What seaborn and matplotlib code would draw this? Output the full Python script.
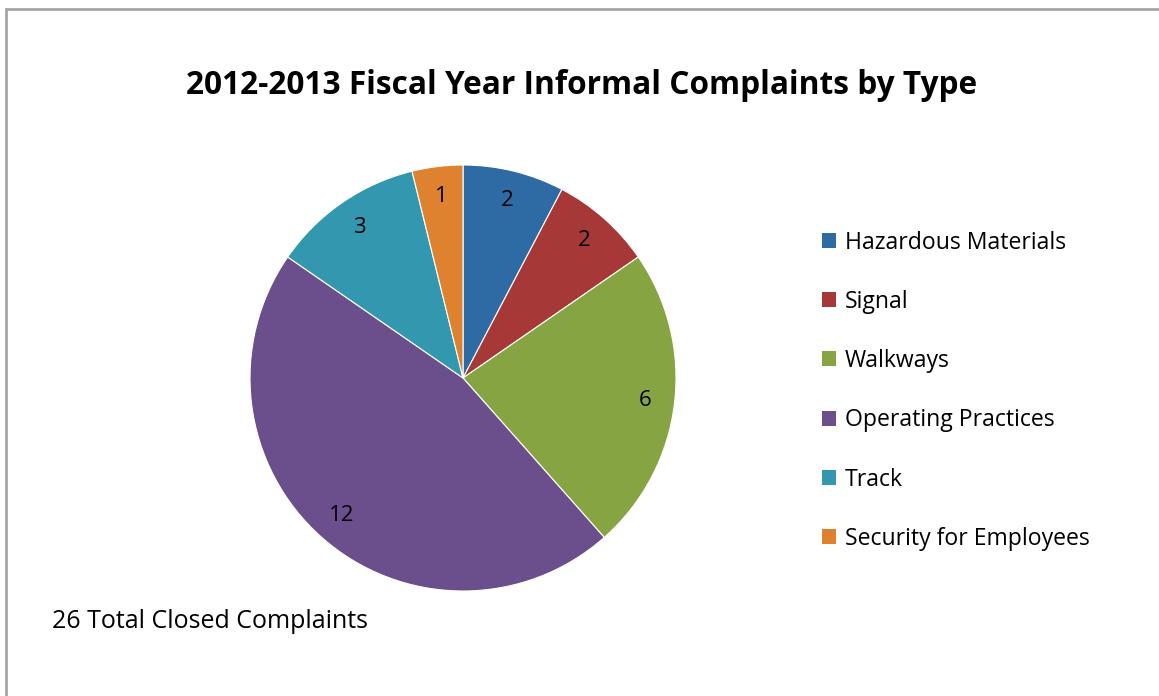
import seaborn as sns
from matplotlib import pyplot as plt
from matplotlib.patches import Patch, Rectangle

categories = ["Hazardous Materials", "Signal", "Walkways", "Operating Practices",
              "Track", "Security for Employees"]
counts = [2, 2, 6, 12, 3, 1]
colors = ["#2E6BA5", "#A63837", "#86A542", "#6B4F8C", "#3397AF", "#DE8230"]
title = "2012-2013 Fiscal Year Informal Complaints by Type"
note = "26 Total Closed Complaints"

sns.set_style("white")
plt.rcParams['font.family'] = ['Open Sans', 'DejaVu Sans']
plt.rcParams['text.color'] = 'black'

W, H = 1159, 696
fig = plt.figure(figsize=(W / 100, H / 100), dpi=100)

# chart frame (only top and left edges are visible in the crop)
fig.patches.append(Rectangle((6 / W, -0.1), 1.2, 1 - 9 / H + 0.1,
                             transform=fig.transFigure, fill=False,
                             edgecolor="#A6A6A6", linewidth=2))

cx, cy, r = 463, 378, 213
ax = fig.add_axes([(cx - r) / W, (H - cy - r) / H, 2 * r / W, 2 * r / H])
total = sum(counts)
ax.pie(counts, colors=colors, startangle=90, counterclock=False,
       autopct=lambda p: f"{round(p * total / 100)}", pctdistance=0.86,
       wedgeprops=dict(edgecolor="white", linewidth=0.8),
       textprops=dict(fontsize=16, color="black"))
ax.set_xlim(-1, 1)
ax.set_ylim(-1, 1)
ax.set_aspect("equal")
ax.axis("off")

fig.text(582 / W, 1 - 85 / H, title, ha="center", va="center",
         fontsize=22.8, fontweight="bold", color="black")
fig.text(52 / W, 1 - 622 / H, note, ha="left", va="center", fontsize=18,
         color="black")

handles = [Patch(facecolor=c, edgecolor="none") for c in colors]
fig.legend(handles, categories, loc="upper left",
           bbox_to_anchor=(810 / W, 1 - 219 / H), frameon=False,
           fontsize=16.6, handlelength=0.62, handleheight=0.62, handletextpad=0.4,
           labelspacing=1.53, borderpad=0, labelcolor="black")

fig.savefig("out.png", dpi=100)
